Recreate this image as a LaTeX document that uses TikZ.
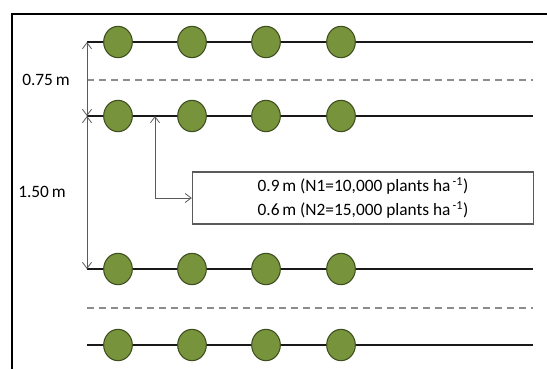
\documentclass[tikz,border=0pt]{standalone}
\usepackage{fontspec}
\setmainfont{Carlito}
\usetikzlibrary{shapes.geometric,arrows.meta,positioning}
\definecolor{leafgreen}{RGB}{119,147,60}
\definecolor{leafedge}{RGB}{62,78,30}
\definecolor{dimgray}{RGB}{90,90,90}
\definecolor{gapgray}{RGB}{140,140,140}

\begin{document}
\begin{tikzpicture}[x=0.75pt, y=-0.75pt,
  plant/.style={ellipse, draw=leafedge, line width=0.8pt, fill=leafgreen,
    minimum width=21.5pt, minimum height=23.5pt, inner sep=0pt},
  row/.style={black!90, line width=1.8pt},
  gap/.style={gapgray, line width=1.4pt, dash pattern=on 5.5pt off 3.5pt},
  dim/.style={{Straight Barb[length=1.6mm,width=2.4mm]}-{Straight Barb[length=1.6mm,width=2.4mm]}, dimgray, line width=0.6pt},
  lbl/.style={font=\fontsize{13}{15}\selectfont, inner sep=1pt},
  info/.style={rectangle, draw=dimgray, line width=0.8pt, fill=white,
    minimum width=256pt, minimum height=39pt, align=center,
    font=\fontsize{13}{18}\selectfont}]
\useasboundingbox (0,0) rectangle (547,369);
\draw[black, line width=1.7pt] (12,369) -- (12,14) -- (547,14);
% plant rows
\foreach \r/\y in {1/42,2/116,3/269,4/345}{
  \coordinate (r\r w) at (87,\y);
  \coordinate (r\r e) at (533,\y);
  \draw[row] (r\r w) -- (r\r e);
  \foreach \i/\x in {1/118,2/192,3/266,4/341}
    \node[plant] (p\r\i) at (\x,\y) {};
}
\draw[gap] (87,80) -- (533,80);
\draw[gap] (87,308) -- (533,308);
% spacings
\draw[dim] (r1w) -- (r2w);
\draw[dim] (r2w) -- (r3w);
\node[lbl] (d1) at (46,80) {0.75\,m};
\node[lbl] (d2) at (42,192) {1.50\,m};
\node[info] (spc) at (363,198) {0.9\,m (N1=10,000 plants ha\textsuperscript{\,-1})\\
  0.6\,m (N2=15,000 plants ha\textsuperscript{\,-1})};
\coordinate (tap) at (155,116);
\draw[dim] (tap) |- (spc.west);
\end{tikzpicture}
\end{document}
